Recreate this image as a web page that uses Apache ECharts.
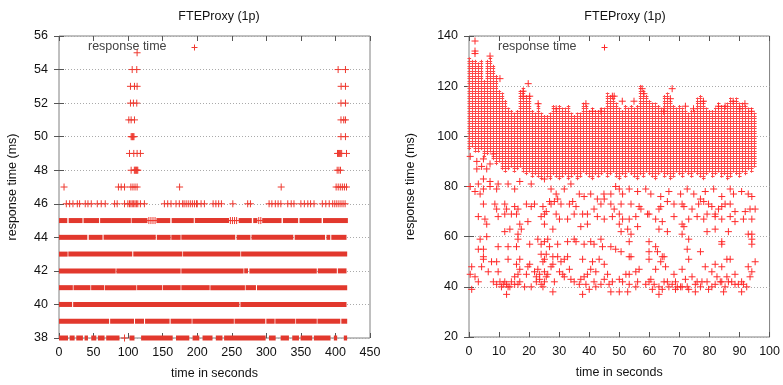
<!DOCTYPE html>
<html><head><meta charset="utf-8">
<script src="https://cdn.jsdelivr.net/npm/echarts@6/dist/echarts.min.js"></script>
<style>html,body{margin:0;padding:0;background:#fff}#c{width:783px;height:385px}</style>
</head><body><div id="c"></div>
<script>
// ---------- LEFT CHART DATA (time s, response ms) ----------
const leftXTicks = [0, 450, 50];
const leftYTicks = [38, 56, 2];
// dense rows drawn as continuous runs of points: [startSecond, endSecond]
const row38Segments = [[0,13],[15.4,22.6],[25,34.6],[37,41.9],[46.7,54],[56.3,65.9],[68.3,87.5],[102,109.2],[118.8,164.5],[169.3,188.5],[193.3,203],[207.7,222.1],[226.9,236.5],[238.9,299],[303.8,313.5],[320.7,332.7],[337.5,347.2],[349.6,366.4],[368.8,392.9],[397.7,402.5],[412.1,416.9]];
const row39Segments = [[0,72.5],[74,108.5],[110,123],[124.5,160],[161.5,192],[193,253],[254,298.5],[300,312],[313,342],[343,373],[374,407],[408.5,417]];
const row40Segments = [[0,19],[20.5,261],[262.5,416]];
const row41Segments = [[0,20],[21,45.5],[46.5,65.5],[66.5,112],[113,149.5],[150.5,176],[177,218],[219,269],[270,285],[286.5,417]];
const row42Segments = [[0,82],[83,176],[177,267],[268,273.5],[275.5,373],[374.5,402],[403.5,416]];
const row43Segments = [[0,12.5],[13.5,106],[107.5,178.5],[179.5,262.5],[263.5,417]];
const row44Segments = [[0,41],[43,63],[64.5,140],[141.5,161.5],[162.5,176],[177,255],[257,277],[278.5,339],[341,385],[387,392.5],[394,416]];
const row45Segments = [[0,12],[14,34],[35.5,58],[59.5,104],[105,128],[141,161],[163,195],[196.5,246],[260,279],[281,287],[294,322],[324,346],[348,380],[382,418]];
// isolated points per row (seconds)
const row38X = [94.8];
const row45X = [130,133,136,139,248,251,254,257,289,292];
const row46X = [10.6,15.4,20.2,26.5,29.8,38,41.9,46.7,55.4,61.1,66.9,80.4,84.2,94.8,99.6,102,104,106,108,110,112,114,117.8,123.6,152.5,157.3,162.1,169.3,174.1,178.9,181,184,187,190,193,196,199,200,205.6,210.4,223,227,231,235,251.5,273,277,304,308,313,317,321,331,336,340,350,355,360,364,369,381,386,391,396,399,402,405,408,411,414];
const row47X = [7.3,86,90,94.8,104,107,110,113,174.5,321.5,401,404,407,410,413,416];
const row48X = [104.4,109,110,111,112,113,114,402.5,405,407.3];
const row49X = [102,108.2,113,117.8,403,404.5,406,407.5,409,416];
const row50X = [104.4,105.5,106.5,107.5,108.5,408,414.5];
const row51X = [101,104.4,109.2,408,412,414.5];
const row52X = [103.4,107.7,112.5,408,414.5];
const row53X = [103.4,109.2,113,408.2,414.5];
const row54X = [105.9,112.5,403.9,414.5];
const row55X = [113];

// ---------- RIGHT CHART DATA ----------
const rightXTicks = [0, 100, 10];
const rightYTicks = [20, 140, 20];
const denseSeconds = [0,1,2,3,4,5,6,7,8,9,10,11,12,13,14,15,16,17,18,19,20,21,22,23,24,25,26,27,28,29,30,31,32,33,34,35,36,37,38,39,40,41,42,43,44,45,46,47,48,49,50,51,52,53,54,55,56,57,58,59,60,61,62,63,64,65,66,67,68,69,70,71,72,73,74,75,76,77,78,79,80,81,82,83,84,85,86,87,88,89,90,91,92,93,94,95];
const denseTop = [131,130,130,129,130,122,130,131,128,124,118,117,114,111,110,109,110,118,119,116,116,110,109,113,109,108,108,109,112,111,112,111,111,112,109,108,109,109,113,112,110,111,110,110,111,111,117,116,115,113,111,110,112,111,112,111,112,120,118,116,114,113,113,112,111,116,117,114,112,111,112,111,110,109,110,110,115,116,114,111,110,110,111,113,112,112,113,115,114,115,113,113,112,111,111,109];
const denseBottom = [95,96,94,94,95,92,93,94,91,89,90,87,86,87,88,86,87,88,86,85,86,84,85,84,83,85,84,83,85,84,83,84,85,83,84,85,83,84,86,85,84,83,85,84,85,86,84,85,86,84,83,85,84,86,85,84,83,85,84,86,85,84,83,85,86,84,85,83,84,86,85,84,86,85,84,86,85,84,83,85,86,84,85,86,84,85,83,84,86,85,84,86,85,87,86,88];
const rightSparse = [
[2,138],[2,134],[2,133],[7,132],[10.3,123],[19.7,121],[18,118],[18,116],[20.2,116],[23,113],[29,111],[38.9,113],[41.1,110],[43.9,110],[47.7,116],[48.3,116],[51,114],[54.9,114],[57.6,119],[58.2,117],[64.8,110],[67.6,119],[67,115],[72,112],[78,114],[74.7,111],[83,112],[85.2,112],[87.9,114],[91.8,113],[90.1,111],[94,110],
[0.4,92],[2.6,90],[4.8,91],[2.6,87],[4.2,88],[5.9,87],[7,89],[8.1,93],[4.8,83],[3.1,81],[7,82],
[0.4,80],[2,78],[3.7,77],[4.8,79],[7,80],[9.2,79],[9.7,81],[13,81],[15.2,79],[16.9,82],[20.7,81],[25.1,83],[27.3,79],[29,77],[31.7,79],[33.9,81],[36.7,77],[38.3,76],[40.5,77],[42.7,75],[44.9,77],[47.2,77],[48.8,80],
[4.8,73],[8.6,73],[9.2,71],[11.9,73],[12.5,71],[15.2,72],[15.8,69],[16.3,71],[19.1,73],[20.7,72],[21.8,73],[24.6,72],[26.8,74],[27.3,73],[28.4,74],[29.5,75],[30.6,73],[33.4,73],[34.5,74],[35.6,72],[37.8,69],[39.4,69],[41.6,71],[43.9,73],[45,75],[47.2,73],[48.3,71],
[3.1,68],[5.3,67],[5.9,65],[9.7,68],[11.9,69],[14.1,69],[16.9,65],[19.6,66],[24,68],[25.1,69],[25.7,70],[29,69],[30.1,67],[32.8,67],[35,69],[37.2,64],[39.4,65],[42.7,68],[45,67],[47.7,68],
[11.9,62],[13.6,63],[16.3,61],[17.4,63],[25.1,65],[27.9,63],
[3.7,59],[3.1,55],[4.8,55],[5.9,60],[9.7,56],[13,56],[15.8,56],[16.3,59],[20.2,57],[22.9,59],[24,57],[25.1,58],[26.2,59],[26.8,56],[27.9,52],[29.5,57],[32.8,58],[35,59],[35.6,58],[38.3,57],[40.5,58],[41.6,57],[43.9,59],[44.4,56],[47.2,56],[48.8,55],
[4.8,51],[24,53],[25.1,51],[31.7,51],
[50,79],[51.1,77],[53.3,79],[56.1,78],[58.8,79],[60.5,77],[63.8,76],[66.5,78],[70.4,77],[72.6,79],[74.8,77],[77,75],[78.6,78],[81.4,79],[84.1,76],[86.9,79],[88,77],[90.7,78],[92.9,77],[94.1,76],
[50.6,73],[53.9,73],[56.6,72],[57.2,71],[59.9,69],[63.2,71],[63.8,72],[66,74],[68.2,73],[70.9,73],[71.5,72],[74.2,71],[76.4,73],[78.1,74],[79.7,73],[80.8,72],[81.9,69],[83,71],[84.1,72],[85.2,73],[86.9,73],[88.5,70],[91.9,70],[93.5,71],[95.2,71],
[50,69],[51.1,67],[53.3,67],[55.5,68],[59.4,69],[62.1,67],[64.3,66],[68.2,68],[70.9,65],[73.1,67],[75.9,68],[78.1,67],[79.2,69],[81.9,68],[84.1,67],[86.9,68],[88.5,66],[91.3,67],[94.1,67],
[50,65],[50.6,62],[52.8,63],[53.9,61],[56.1,64],[63.2,63],[66,62],[70.9,61],[71.5,64],[79.2,62],[81.9,63],[86.3,62],[92.9,61],[94.1,61],
[53.3,58],[59.9,58],[62.1,56],[62.7,54],[59.9,54],[73.1,59],[72.6,55],[77,54],[84.1,58],[84.1,57],[94.1,59],[94.1,57],[50.6,54],[53.3,52],[64.9,52],[85.8,51],
[0.9,48],[0.4,45],[2,44],[4.2,48],[4.8,52],[6.4,46],[7.5,50],[9.2,50],[9.7,46],[8.1,42],[9.2,41],[10.8,40],[11.9,42],[13,40],[12.5,37],[14.1,42],[15.2,44],[16.3,41],[16.9,47],[15.8,49],[16.9,51],[19.1,45],[19.6,48],[20.2,49],[18.5,40],[20.7,40],[22.4,42],[22.4,44],[23.5,45],[24,41],[25.1,42],[24.6,50],[25.7,53],[26.2,45],[27.3,48],[27.9,49],[28.4,42],[27.9,38],[29.5,52],[30.6,50],[31.2,45],[32.8,52],[33.4,47],[33.9,43],[35,42],[36.7,41],[37.8,37],[38.3,44],[39.4,45],[40.5,47],[41.1,50],[42.2,40],[43.3,51],[45,49],[46.1,45],[47.7,42],[0.9,39],[3.1,42],[13,51],[37.8,51],
[10.3,42],[11.4,41],[12.5,41],[13.6,40],[15.2,41],[16.9,42],[16.3,45],[21.8,46],[22.9,47],[25.1,46],[25.7,44],[23.5,43],[24.6,40],[30.1,46],[31.7,44],[37.2,43],[38.9,41],[40,39],[41.6,42],[43.9,41],[45,43],[46.6,41],[47.2,38],[42.2,46],
[50,38],[51.1,42],[52.8,38],[53.9,52],[53.3,45],[55.5,46],[56.1,42],[56.6,47],[59.9,51],[60.5,43],[61.6,41],[62.1,47],[63.2,37],[63.8,50],[64.3,52],[65.4,48],[64.9,42],[66.5,40],[68.2,45],[68.7,42],[70.4,40],[70.9,47],[72,43],[72.6,40],[73.1,51],[74.2,44],[75.3,38],[75.9,42],[77,40],[78.6,48],[79.2,42],[80.8,46],[80.8,40],[81.9,49],[82.5,44],[83.6,42],[84.1,48],[84.7,38],[85.8,44],[86.9,51],[87.4,42],[88.5,45],[89.6,41],[90.7,38],[92.9,48],[93.5,44],[94.1,46],[95.2,50],[91.3,41],[58.8,41],[66,42],[69.3,40],
[50,43],[52.2,45],[53.3,41],[55.5,40],[59.9,42],[61,39],[63.2,40],[64.3,39],[67.6,41],[68.7,39],[70.9,40],[73.1,39],[75.3,41],[77.5,42],[79.7,39],[81.9,41],[84.1,42],[85.2,40],[86.3,42],[88.5,41],[90.7,42],[92.4,40]
];

const titleText = 'FTEProxy (1p)';
const legendText = 'response time';
const xName = 'time in seconds';
const yName = 'response time (ms)';

// ---------- BUILD ----------
const FONT = 'Liberation Sans, Arial, Helvetica, sans-serif';
const FS = 12.5;
const bandRows = [[38,row38Segments],[39,row39Segments],[40,row40Segments],[41,row41Segments],[42,row42Segments],[43,row43Segments],[44,row44Segments],[45,row45Segments]];
const bandData = [];
bandRows.forEach(([y, segs]) => segs.forEach(s => bandData.push([y, s[0], s[1]])));
const pointRows = [[38,row38X],[45,row45X],[46,row46X],[47,row47X],[48,row48X],[49,row49X],[50,row50X],[51,row51X],[52,row52X],[53,row53X],[54,row54X],[55,row55X]];
const leftPoints = [];
pointRows.forEach(([y, xs]) => xs.forEach(x => leftPoints.push([x, y])));
const denseData = denseSeconds.map((s, i) => [s, denseTop[i], denseBottom[i]]);

const tile = document.createElement('canvas');
tile.width = 3; tile.height = 5;
const tg = tile.getContext('2d');
tg.fillStyle = '#ff4848';
tg.fillRect(1, 0, 1, 5);
tg.fillRect(0, 1, 3, 1);
tg.fillRect(0, 3, 3, 1);
const densePattern = {image: tile, repeat: 'repeat'};

const CROSS = 'path://M0,3L6,3M3,0L3,6';

function makeAxes(gi, ticks, isX, nameGap) {
  const base = {
    gridIndex: gi, type: 'value', min: ticks[0], max: ticks[1], interval: ticks[2],
    axisLine: {show: false},
    axisTick: {show: true, inside: true, length: 5, lineStyle: {color: '#555', width: 1}},
    splitLine: {show: false}
  };
  const main = Object.assign({}, base, {
    position: isX ? 'bottom' : 'left',
    axisLabel: {show: true, color: '#111', fontSize: FS, fontFamily: FONT, margin: isX ? 8 : 11},
    name: isX ? xName : yName, nameLocation: 'middle', nameGap: nameGap,
    nameTextStyle: {color: '#111', fontSize: FS, fontFamily: FONT}
  });
  if (!isX) main.splitLine = {show: true, lineStyle: {color: '#aaa', type: [1, 2], width: 1}};
  const mirror = Object.assign({}, base, {position: isX ? 'top' : 'right', axisLabel: {show: false}});
  return [main, mirror];
}
const lx = makeAxes(0, leftXTicks, true, 29);
const rx = makeAxes(1, rightXTicks, true, 29);
const ly = makeAxes(0, leftYTicks, false, 40);
const ry = makeAxes(1, rightYTicks, false, 52);

function crossLines(cx, cy, color) {
  return [
    {type: 'line', shape: {x1: cx - 3, y1: cy, x2: cx + 3, y2: cy}, style: {stroke: color, lineWidth: 1}},
    {type: 'line', shape: {x1: cx, y1: cy - 3, x2: cx, y2: cy + 3}, style: {stroke: color, lineWidth: 1}}
  ];
}

const option = {
  backgroundColor: '#fff',
  animation: false,
  title: [
    {text: titleText, left: 214, top: 5, textAlign: 'center', textStyle: {fontSize: FS, fontWeight: 'normal', color: '#111', fontFamily: FONT}},
    {text: titleText, left: 620, top: 5, textAlign: 'center', textStyle: {fontSize: FS, fontWeight: 'normal', color: '#111', fontFamily: FONT}}
  ],
  grid: [
    {left: 59, top: 36, width: 311, height: 302, show: true, borderColor: '#808080', borderWidth: 1, backgroundColor: 'transparent'},
    {left: 469, top: 36, width: 303, height: 301, show: true, borderColor: '#808080', borderWidth: 1, backgroundColor: 'transparent'}
  ],
  xAxis: [lx[0], lx[1], rx[0], rx[1]],
  yAxis: [ly[0], ly[1], ry[0], ry[1]],
  graphic: [
    {type: 'text', left: 88, top: 40, style: {text: legendText, fill: '#444', fontSize: FS, fontFamily: FONT}},
    {type: 'text', left: 498, top: 40, style: {text: legendText, fill: '#444', fontSize: FS, fontFamily: FONT}}
  ].concat(crossLines(194.5, 47.5, '#f03a30'), crossLines(604.5, 47.5, '#ff2a2a')),
  series: [
    {
      type: 'custom', xAxisIndex: 0, yAxisIndex: 0, data: bandData,
      encode: {x: [1, 2], y: 0}, silent: true,
      renderItem: function (params, api) {
        const y = api.value(0), x0 = api.value(1), x1 = api.value(2);
        const p0 = api.coord([x0, y]), p1 = api.coord([x1, y]);
        return {type: 'rect', shape: {x: p0[0], y: p0[1] - 2.5, width: Math.max(1, p1[0] - p0[0]), height: 5}, style: {fill: '#e2382d'}};
      }
    },
    {
      type: 'scatter', xAxisIndex: 0, yAxisIndex: 0, data: leftPoints,
      symbol: CROSS, symbolSize: 7, silent: true,
      itemStyle: {color: 'rgba(0,0,0,0)', borderColor: '#ee3a30', borderWidth: 1, opacity: 1}
    },
    {
      type: 'custom', xAxisIndex: 2, yAxisIndex: 2, data: denseData,
      encode: {x: 0, y: [1, 2]}, silent: true,
      renderItem: function (params, api) {
        const s = api.value(0), top = api.value(1), bot = api.value(2);
        const a = api.coord([s - 0.5, top + 0.5]), b = api.coord([s + 0.5, bot - 0.5]);
        return {type: 'rect', shape: {x: a[0], y: a[1], width: b[0] - a[0] + 0.6, height: b[1] - a[1]}, style: {fill: densePattern}};
      }
    },
    {
      type: 'scatter', xAxisIndex: 2, yAxisIndex: 2, data: rightSparse,
      symbol: CROSS, symbolSize: 7, silent: true,
      itemStyle: {color: 'rgba(0,0,0,0)', borderColor: '#ff2a2a', borderWidth: 1, opacity: 1}
    }
  ]
};
const chart = echarts.init(document.getElementById('c'));
chart.setOption(option);
</script></body></html>
